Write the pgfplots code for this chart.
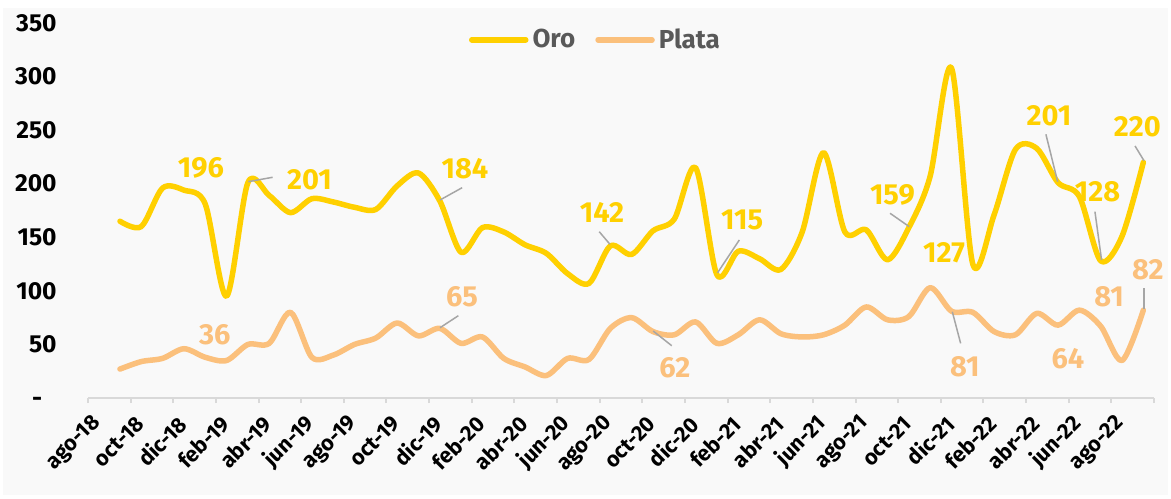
\documentclass[border=0pt]{standalone}
\usepackage{fontspec}
\setmainfont{Fira Sans}
\usepackage{pgfplots}
\pgfplotsset{compat=1.18}
\definecolor{oro}{RGB}{255,208,0}
\definecolor{plata}{RGB}{251,192,124}
\definecolor{bgc}{RGB}{249,249,249}
\definecolor{leader}{RGB}{166,166,166}
\definecolor{axisgray}{RGB}{217,217,217}
\definecolor{legtext}{RGB}{89,89,89}
\newcommand\lbl{\bfseries\fontsize{14.5}{17}\selectfont}
\newcommand\tck{\bfseries\fontsize{12.3}{14}\selectfont}
\newcommand\xtck{\bfseries\fontsize{10.8}{13}\selectfont}

\begin{document}
\begin{tikzpicture}[x=1pt,y=1pt]
\fill[white] (0,0) rectangle (585.5,249);
\fill[bgc] (1.5,1.5) rectangle (584,245);
\begin{axis}[
  at={(44pt,50pt)}, anchor=south west,
  scale only axis, width=533pt, height=187.5pt,
  xmin=-0.5, xmax=49.5, ymin=0, ymax=350,
  axis x line*=bottom, axis y line*=left,
  x axis line style={draw=axisgray, line width=1pt, -},
  y axis line style={draw=none},
  xtick={0,2,...,48},
  xticklabels={ago-18,oct-18,dic-18,feb-19,abr-19,jun-19,ago-19,oct-19,dic-19,
    feb-20,abr-20,jun-20,ago-20,oct-20,dic-20,feb-21,abr-21,jun-21,ago-21,
    oct-21,dic-21,feb-22,abr-22,jun-22,ago-22},
  minor xtick={-0.5,1.5,...,49.5},
  major tick length=0pt, minor tick length=2.5pt, tick align=outside,
  minor x tick style={draw=axisgray, line width=1pt},
  ytick={0,50,...,350},
  yticklabels={-\phantom{0},50,100,150,200,250,300,350},
  xticklabel style={font=\xtck, yshift=-11pt, xshift=-0.5pt, rotate=45, anchor=east, inner sep=0pt},
  yticklabel style={font=\tck, anchor=east, inner sep=0pt, xshift=-15.5pt},
  legend style={at={(0.477,0.955)}, anchor=center, draw=none, fill=none,
    legend columns=2, font=\bfseries\fontsize{13}{15}\selectfont, text=legtext,
    /tikz/every even column/.append style={column sep=8pt}},
  legend image code/.code={\draw[#1, line width=2.75pt, line cap=round] (0pt,0pt) -- (27pt,0pt);},
  clip=false,
]
\addplot[oro, line width=2.75pt, smooth, line cap=round, line join=round] coordinates {
  (1,165)(2,160)(3,196)(4,194)(5,181)(6,95)(7,201)(8,189)(9,173)(10,186)
  (11,183)(12,178)(13,176)(14,198)(15,210)(16,184)(17,136)(18,159)(19,155)(20,143)
  (21,135)(22,116)(23,107)(24,142)(25,134)(26,156)(27,167)(28,215)(29,115)(30,137)
  (31,130)(32,120)(33,155)(34,229)(35,155)(36,157)(37,129)(38,159)(39,207)(40,308)
  (41,125)(42,171)(43,232)(44,233)(45,201)(46,188)(47,128)(48,151)(49,220)};
\addlegendentry{Oro}
\addplot[plata, line width=2.75pt, smooth, line cap=round, line join=round] coordinates {
  (1,27)(2,34)(3,37)(4,46)(5,38)(6,35)(7,50)(8,51)(9,80)(10,38)
  (11,40)(12,50)(13,56)(14,70)(15,58)(16,65)(17,51)(18,57)(19,37)(20,29)
  (21,21)(22,37)(23,36)(24,65)(25,75)(26,62)(27,59)(28,71)(29,51)(30,59)
  (31,73)(32,60)(33,57)(34,59)(35,68)(36,85)(37,73)(38,76)(39,103)(40,81)
  (41,80)(42,62)(43,59)(44,79)(45,68)(46,82)(47,67)(48,35)(49,82)};
\addlegendentry{Plata}

% leader lines
\draw[leader, line width=0.75pt] (axis cs:7.02,201.9) -- (axis cs:8.16,206);
\draw[leader, line width=0.75pt] (axis cs:16.01,184.8) -- (axis cs:17.05,196.3);
\draw[leader, line width=0.75pt] (axis cs:23.48,155.2) -- (axis cs:23.98,143.5);
\draw[leader, line width=0.75pt] (axis cs:29.03,116.9) -- (axis cs:30.05,147.5);
\draw[leader, line width=0.75pt] (axis cs:37.12,172.4) -- (axis cs:38.02,159.9);
\draw[leader, line width=0.75pt] (axis cs:44.43,246.1) -- (axis cs:44.98,201.9);
\draw[leader, line width=0.75pt] (axis cs:46.73,173.9) -- (axis cs:47.04,128.8);
\draw[leader, line width=0.75pt] (axis cs:48.61,235.2) -- (axis cs:49.03,221.5);
\draw[leader, line width=0.75pt] (axis cs:16.01,65.6) -- (axis cs:16.87,76.8);
\draw[leader, line width=0.75pt] (axis cs:26.01,62.5) -- (axis cs:26.88,48.8);
\draw[leader, line width=0.75pt] (axis cs:40.04,80.5) -- (axis cs:40.43,51);
\draw[leader, line width=0.75pt] (axis cs:49.04,102.4) -- (axis cs:49.04,82.8);

% data labels
\begin{scope}[every node/.style={font=\lbl, inner sep=0pt}]
\node[text=oro] at (axis cs:4.80,214.7) {196};
\node[text=oro] at (axis cs:9.89,203.5) {201};
\node[text=oro] at (axis cs:17.18,214.2) {184};
\node[text=oro] at (axis cs:23.61,173.1) {142};
\node[text=oro] at (axis cs:30.18,166.1) {115};
\node[text=oro] at (axis cs:37.23,189.5) {159};
\node[text=oro] at (axis cs:39.65,135.3) {127};
\node[text=oro] at (axis cs:44.57,263.2) {201};
\node[text=oro] at (axis cs:46.85,192.3) {128};
\node[text=oro] at (axis cs:48.72,252.9) {220};
\node[text=plata] at (axis cs:5.45,59.3) {36};
\node[text=plata] at (axis cs:17.04,94.3) {65};
\node[text=plata] at (axis cs:27.03,28) {62};
\node[text=plata] at (axis cs:40.63,28.9) {81};
\node[text=plata] at (axis cs:45.46,36.4) {64};
\node[text=plata] at (axis cs:47.39,94.3) {81};
\node[text=plata] at (axis cs:49.21,119.5) {82};
\end{scope}
\end{axis}
\pgfresetboundingbox
\useasboundingbox (0,0) rectangle (585.5,249);
\end{tikzpicture}
\end{document}
